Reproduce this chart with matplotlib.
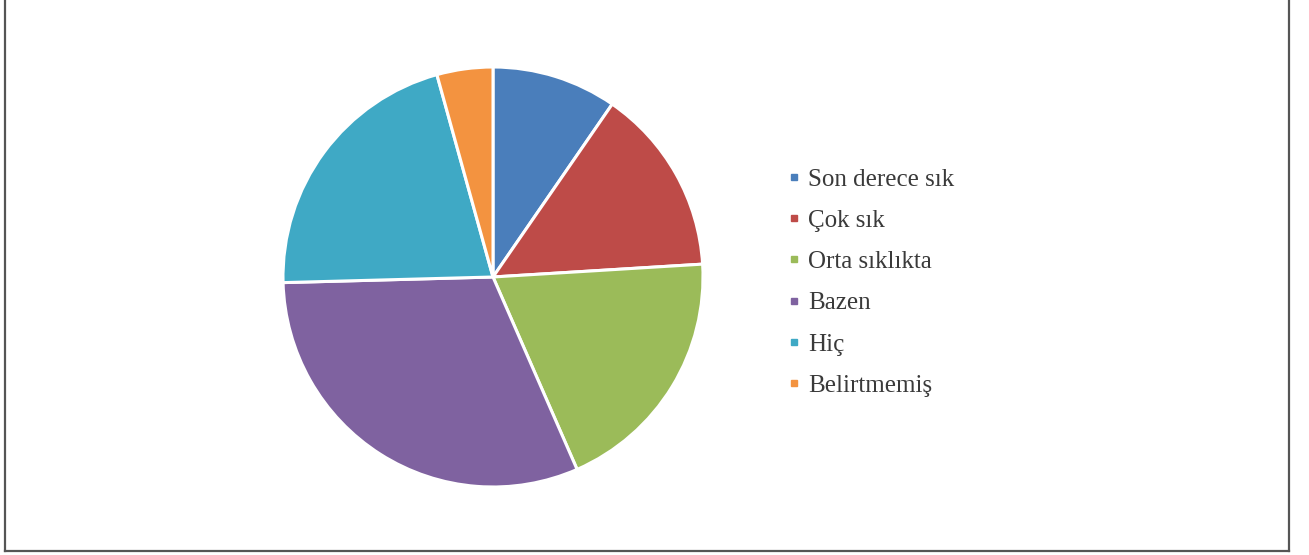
import matplotlib.pyplot as plt
from matplotlib.lines import Line2D

labels = ['Son derece sık', 'Çok sık', 'Orta sıklıkta', 'Bazen', 'Hiç', 'Belirtmemiş']
values = [9.6, 14.4, 19.4, 31.1, 21.1, 4.3]
colors = ['#4A7EBB', '#BE4B48', '#9BBB59', '#7F62A0', '#3FA9C5', '#F39340']

plt.rcParams['font.family'] = ['Liberation Serif', 'DejaVu Serif']

W, H = 1309, 555
fig = plt.figure(figsize=(W / 100, H / 100), dpi=100)

# pie axes: centre (493, 277), radius 210 px
cx, cy, r = 493, 277, 210
ax = fig.add_axes([(cx - r) / W, (H - cy - r) / H, 2 * r / W, 2 * r / H])
wedges, _ = ax.pie(values, colors=colors, startangle=90, counterclock=False,
                   radius=1, wedgeprops=dict(edgecolor='white', linewidth=2.2))
ax.set_xlim(-1, 1)
ax.set_ylim(-1, 1)
ax.set_aspect('equal')
ax.axis('off')

handles = [Line2D([], [], marker='s', linestyle='none', markersize=5,
                  markerfacecolor=c, markeredgecolor=c) for c in colors]
fig.legend(handles, labels, loc='upper left', bbox_to_anchor=(787 / W, 1 - 168 / H),
           frameon=False, fontsize=18, labelspacing=0.75, handlelength=0.55,
           handletextpad=0.3, borderpad=0, borderaxespad=0, labelcolor='#3a3a3a')

# frame
bc = '#555555'
fig.add_artist(Line2D([5 / W, 5 / W], [1 - 551 / H, 1], color=bc, lw=1.6))
fig.add_artist(Line2D([1289 / W, 1289 / W], [1 - 551 / H, 1], color=bc, lw=1.6))
fig.add_artist(Line2D([5 / W, 1289 / W], [1 - 551 / H, 1 - 551 / H], color=bc, lw=1.6))

fig.savefig('out.png', dpi=100)
